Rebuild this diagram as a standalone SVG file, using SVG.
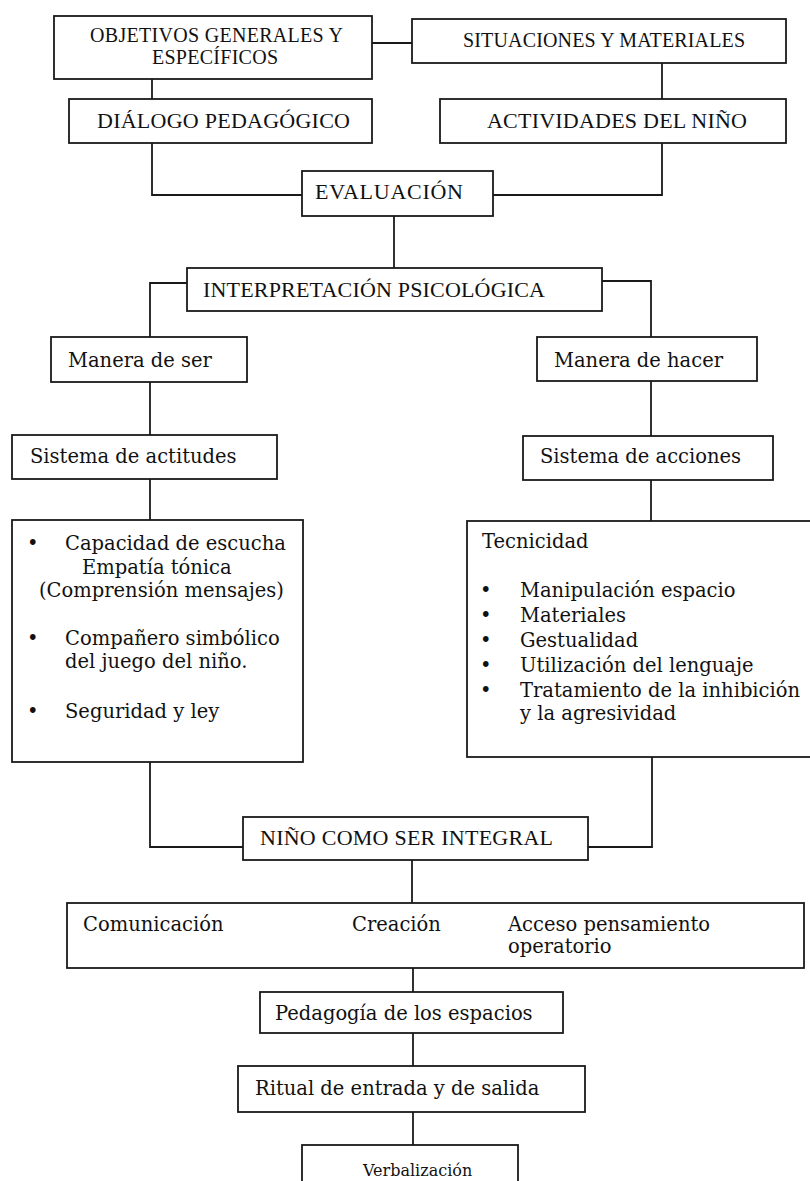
<svg xmlns="http://www.w3.org/2000/svg" width="810" height="1181" viewBox="0 0 810 1181">
<style>
.box{fill:#fff;stroke:#1a1a1a;stroke-width:1.8}
.ln{fill:none;stroke:#1a1a1a;stroke-width:1.8}
.cap{font-family:"Liberation Serif","Times New Roman",serif;font-size:22px;fill:#111}
.cap20{font-family:"Liberation Serif","Times New Roman",serif;font-size:20px;fill:#111}
.t{font-family:"DejaVu Serif",serif;font-size:19.5px;fill:#111}
.ts{font-family:"DejaVu Serif",serif;font-size:16px;fill:#111}
</style>
<rect width="810" height="1181" fill="#fff"/>
<g id="connectors">
<path class="ln" d="M372,43 H412"/>
<path class="ln" d="M152,79 V99"/>
<path class="ln" d="M662,63 V99"/>
<path class="ln" d="M152,143 V195 H302"/>
<path class="ln" d="M662,143 V195 H493"/>
<path class="ln" d="M394,216 V268"/>
<path class="ln" d="M187,283 H150 V337"/>
<path class="ln" d="M602,281 H651 V337"/>
<path class="ln" d="M150,382 V435"/>
<path class="ln" d="M651,381 V436"/>
<path class="ln" d="M150,479 V520"/>
<path class="ln" d="M651,480 V521"/>
<path class="ln" d="M150,762 V847 H243"/>
<path class="ln" d="M652,757 V847 H588"/>
<path class="ln" d="M412,860 V903"/>
<path class="ln" d="M413,968 V992"/>
<path class="ln" d="M413,1033 V1066"/>
<path class="ln" d="M413,1112 V1145"/>
</g>
<g id="objetivos">
<rect class="box" x="54" y="16" width="318" height="63"/>
<text class="cap20" x="90" y="42" textLength="253">OBJETIVOS GENERALES Y</text>
<text class="cap20" x="152" y="64" textLength="126">ESPECÍFICOS</text>
</g>
<g id="situaciones">
<rect class="box" x="412" y="19" width="374" height="44"/>
<text class="cap20" x="463" y="47" textLength="282">SITUACIONES Y MATERIALES</text>
</g>
<g id="dialogo">
<rect class="box" x="69" y="99" width="303" height="44"/>
<text class="cap" x="97" y="128" textLength="253">DIÁLOGO PEDAGÓGICO</text>
</g>
<g id="actividades">
<rect class="box" x="440" y="99" width="346" height="44"/>
<text class="cap" x="487" y="128" textLength="260">ACTIVIDADES DEL NIÑO</text>
</g>
<g id="evaluacion">
<rect class="box" x="302" y="171" width="191" height="45"/>
<text class="cap" x="315" y="199" textLength="148">EVALUACIÓN</text>
</g>
<g id="interpretacion">
<rect class="box" x="187" y="268" width="415" height="43"/>
<text class="cap" x="203" y="297" textLength="342">INTERPRETACIÓN PSICOLÓGICA</text>
</g>
<g id="manera-ser">
<rect class="box" x="51" y="337" width="196" height="45"/>
<text class="t" x="68" y="367">Manera de ser</text>
</g>
<g id="manera-hacer">
<rect class="box" x="537" y="337" width="220" height="44"/>
<text class="t" x="554" y="367">Manera de hacer</text>
</g>
<g id="actitudes">
<rect class="box" x="12" y="435" width="265" height="44"/>
<text class="t" x="30" y="463">Sistema de actitudes</text>
</g>
<g id="acciones">
<rect class="box" x="523" y="436" width="250" height="44"/>
<text class="t" x="540" y="463">Sistema de acciones</text>
</g>
<g id="actitudes-lista">
<rect class="box" x="12" y="520" width="291" height="242"/>
<text class="t" x="27" y="550">•</text>
<text class="t" x="65" y="550">Capacidad de escucha</text>
<text class="t" x="82" y="574">Empatía tónica</text>
<text class="t" x="39" y="597">(Comprensión mensajes)</text>
<text class="t" x="27" y="645">•</text>
<text class="t" x="65" y="645">Compañero simbólico</text>
<text class="t" x="65" y="668">del juego del niño.</text>
<text class="t" x="27" y="718">•</text>
<text class="t" x="65" y="718">Seguridad y ley</text>
</g>
<g id="acciones-lista">
<rect class="box" x="467" y="521" width="350" height="236"/>
<text class="t" x="482" y="548">Tecnicidad</text>
<text class="t" x="480" y="597">•</text>
<text class="t" x="520" y="597">Manipulación espacio</text>
<text class="t" x="480" y="622">•</text>
<text class="t" x="520" y="622">Materiales</text>
<text class="t" x="480" y="647">•</text>
<text class="t" x="520" y="647">Gestualidad</text>
<text class="t" x="480" y="672">•</text>
<text class="t" x="520" y="672">Utilización del lenguaje</text>
<text class="t" x="480" y="697">•</text>
<text class="t" x="520" y="697">Tratamiento de la inhibición</text>
<text class="t" x="520" y="720">y la agresividad</text>
</g>
<g id="nino">
<rect class="box" x="243" y="817" width="345" height="43"/>
<text class="cap" x="260" y="845" textLength="293">NIÑO COMO SER INTEGRAL</text>
</g>
<g id="dimensiones">
<rect class="box" x="67" y="903" width="737" height="65"/>
<text class="t" x="83" y="931">Comunicación</text>
<text class="t" x="352" y="931">Creación</text>
<text class="t" x="508" y="931">Acceso pensamiento</text>
<text class="t" x="508" y="953">operatorio</text>
</g>
<g id="pedagogia">
<rect class="box" x="260" y="992" width="303" height="41"/>
<text class="t" x="275" y="1020">Pedagogía de los espacios</text>
</g>
<g id="ritual">
<rect class="box" x="238" y="1066" width="347" height="46"/>
<text class="t" x="255" y="1095">Ritual de entrada y de salida</text>
</g>
<g id="verbalizacion">
<rect class="box" x="302" y="1145" width="216" height="50"/>
<text class="ts" x="363" y="1176">Verbalización</text>
</g>
</svg>
